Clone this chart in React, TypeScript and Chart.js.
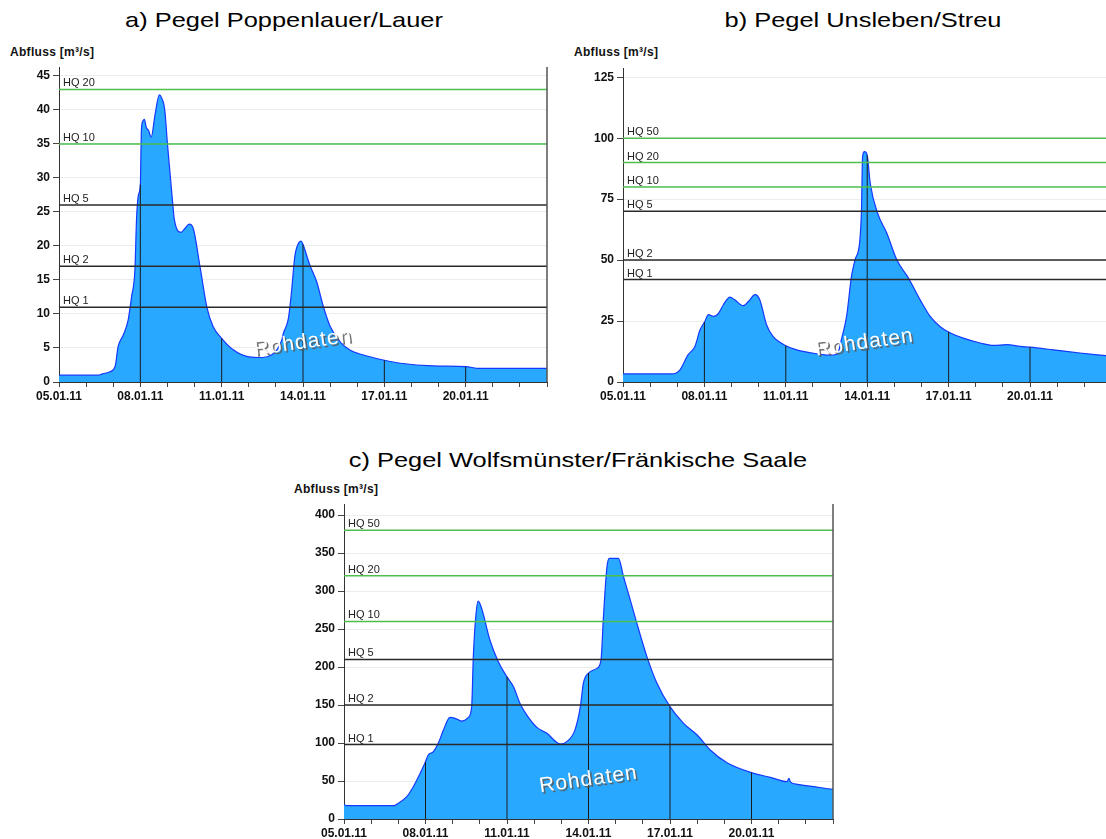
import React, { useEffect, useRef } from 'react';
import { Chart, registerables } from 'chart.js';

Chart.register(...registerables);

const FONT = '"Liberation Sans", Arial, Helvetica, sans-serif';

// shared x-axis tick labels (days after 05.01.11)
const tickDays = [0, 3, 6, 9, 12, 15];
const tickLabels = ['05.01.11', '08.01.11', '11.01.11', '14.01.11', '17.01.11', '20.01.11'];
const dropDays = [3, 6, 9, 12, 15];

// a) Pegel Poppenlauer/Lauer
const daysA = [0, 1.45, 1.6, 1.88, 2.07, 2.18, 2.37, 2.55, 2.68, 2.8, 2.86, 2.93, 3.0, 3.04, 3.1, 3.15, 3.22, 3.3, 3.4, 3.55, 3.7, 3.78, 3.9, 4.0, 4.2, 4.25, 4.5, 4.65, 4.8, 4.95, 5.2, 5.46, 5.68, 6.0, 6.4, 7.0, 7.5, 7.85, 8.05, 8.22, 8.28, 8.46, 8.57, 8.7, 8.85, 8.93, 9.0, 9.25, 9.5, 9.75, 10.0, 10.37, 10.73, 11.2, 12.0, 12.6, 13.8, 15.0, 15.5, 18.0];
const flowA = [1.0, 1.0, 1.2, 1.5, 2.3, 5.2, 6.9, 9.1, 12.6, 16.5, 23.9, 27.5, 29, 37, 38.4, 38.6, 37.4, 37.0, 36.0, 39.5, 42.2, 41.8, 40, 35, 26, 24, 22, 22.6, 23.2, 22.6, 17, 10.9, 8.2, 6.4, 4.8, 3.7, 3.6, 4.0, 4.8, 6.2, 7.2, 9.3, 13, 18.5, 20.5, 20.7, 20.2, 17.2, 14.8, 11.1, 8.2, 5.9, 4.7, 4.0, 3.2, 2.76, 2.36, 2.26, 2.0, 2.0];
const hqNamesA = ['HQ 20', 'HQ 10', 'HQ 5', 'HQ 2', 'HQ 1'];
const hqValuesA = [43, 35, 26, 17, 11];

// b) Pegel Unsleben/Streu
const daysB = [0, 1.8, 2.1, 2.4, 2.65, 2.84, 3.0, 3.15, 3.33, 3.5, 3.7, 3.94, 4.12, 4.43, 4.62, 4.87, 5.04, 5.29, 5.53, 6.0, 6.4, 7.13, 7.6, 7.9, 8.05, 8.24, 8.42, 8.55, 8.73, 8.79, 8.83, 8.9, 9.0, 9.11, 9.38, 9.72, 10.09, 10.52, 10.95, 11.32, 11.68, 12.0, 12.54, 13.16, 13.65, 14.15, 14.64, 15.0, 15.86, 16.84, 17.8];
const flowB = [3.3, 3.3, 5, 11.2, 14.6, 21.4, 24.5, 27.6, 26.9, 27.9, 31.7, 34.8, 33.7, 31.3, 33, 35.8, 33.7, 23.5, 18.7, 14.9, 13.2, 11.6, 11.0, 11.5, 17.5, 26.9, 43.3, 50, 58.3, 71, 92.5, 94.5, 93, 81.6, 69.3, 61.1, 50.1, 42.6, 33.7, 26.9, 22.8, 20.5, 18, 16, 15, 15.3, 14.6, 14.3, 13.2, 11.9, 10.8];
const hqNamesB = ['HQ 50', 'HQ 20', 'HQ 10', 'HQ 5', 'HQ 2', 'HQ 1'];
const hqValuesB = [100, 90, 80, 70, 50, 42];

// c) Pegel Wolfsmünster/Fränkische Saale
const daysC = [0, 0.08, 1.85, 1.94, 2.31, 2.55, 2.8, 3.0, 3.1, 3.29, 3.47, 3.66, 3.9, 4.09, 4.33, 4.58, 4.7, 4.76, 4.86, 4.94, 5.02, 5.12, 5.37, 5.68, 6.0, 6.24, 6.48, 6.73, 7.1, 7.47, 7.96, 8.2, 8.5, 8.7, 8.81, 9.0, 9.31, 9.46, 9.55, 9.68, 9.77, 10.1, 10.29, 10.54, 10.78, 11.15, 11.52, 12.0, 12.5, 13.0, 13.48, 14.1, 15.0, 15.7, 16.3, 16.38, 16.43, 16.7, 18.0];
const flowC = [19.3, 17.5, 17.5, 19.3, 29.4, 42.5, 60, 75.4, 84.2, 88.6, 99.6, 117, 133.8, 132.5, 128.9, 133.8, 147.8, 213.6, 270, 286.8, 282, 270.6, 235.5, 207, 187, 174, 152, 136.8, 120.6, 112.7, 98.7, 101.8, 117, 147.8, 178.5, 192, 198.2, 209, 266, 332, 343, 343, 318.8, 288, 257.5, 213.6, 178.5, 147.8, 125.9, 110.5, 90.8, 74, 61, 54.8, 49.1, 53.5, 48.8, 45.6, 39];
const hqNamesC = ['HQ 50', 'HQ 20', 'HQ 10', 'HQ 5', 'HQ 2', 'HQ 1'];
const hqValuesC = [380, 320, 260, 210, 150, 98];

const GREEN = '#4cbf4c';
const DARK = '#2a2a2a';
const hqColor = (name: string) => (['HQ 10', 'HQ 20', 'HQ 50'].includes(name) ? GREEN : DARK);

function interp(days: number[], vals: number[], d: number) {
  for (let i = 0; i < days.length - 1; i++) {
    if (d >= days[i] && d <= days[i + 1]) {
      const t = (d - days[i]) / (days[i + 1] - days[i] || 1);
      return vals[i] + t * (vals[i + 1] - vals[i]);
    }
  }
  return vals[vals.length - 1];
}

type Spec = {
  left: number; top: number; width: number; height: number;
  padTop: number; padRight: number; xAxisH: number;
  xMax: number; yMax: number; yStep: number;
  days: number[]; flow: number[]; hqNames: string[]; hqValues: number[];
  rightBorder: boolean;
};

function HydroChart({ spec }: { spec: Spec }) {
  const ref = useRef<HTMLCanvasElement>(null);
  useEffect(() => {
    const s = spec;
    const flowData = s.days.map((d, i) => ({ x: d, y: s.flow[i] }));
    const datasets: any[] = [
      {
        data: flowData,
        borderColor: '#1538ff',
        borderWidth: 1.2,
        backgroundColor: '#29a8ff',
        fill: 'origin',
        pointRadius: 0,
        cubicInterpolationMode: 'monotone',
        order: 5,
      },
    ];
    s.hqNames.forEach((n, i) => {
      datasets.push({
        data: [{ x: 0, y: s.hqValues[i] }, { x: s.xMax, y: s.hqValues[i] }],
        borderColor: hqColor(n),
        borderWidth: 1.5,
        fill: false,
        pointRadius: 0,
        order: 1,
      });
    });
    dropDays.forEach((d) => {
      datasets.push({
        data: [{ x: d, y: 0 }, { x: d, y: interp(s.days, s.flow, d) }],
        borderColor: '#1a1a1a',
        borderWidth: 1,
        fill: false,
        pointRadius: 0,
        order: 2,
      });
    });

    const overlay = {
      id: 'overlay',
      afterDatasetsDraw(chart: any) {
        const { ctx, chartArea, scales } = chart;
        const y = scales.y;
        ctx.save();
        ctx.font = `11px ${FONT}`;
        ctx.fillStyle = '#222';
        ctx.textAlign = 'left';
        ctx.textBaseline = 'alphabetic';
        s.hqNames.forEach((n, i) => {
          ctx.fillText(n, chartArea.left + 4, y.getPixelForValue(s.hqValues[i]) - 3);
        });
        // watermark
        const cx = chartArea.left + 0.5 * (chartArea.right - chartArea.left);
        const cy = chartArea.top + 0.875 * (chartArea.bottom - chartArea.top);
        ctx.translate(cx, cy);
        ctx.rotate((-8 * Math.PI) / 180);
        ctx.font = `21px ${FONT}`;
        try { (ctx as any).letterSpacing = '1px'; } catch (e) {}
        ctx.textAlign = 'center';
        ctx.textBaseline = 'middle';
        ctx.fillStyle = 'rgba(90,90,90,0.85)';
        ctx.fillText('Rohdaten', 1.5, 2);
        ctx.fillStyle = '#ffffff';
        ctx.fillText('Rohdaten', 0, 0);
        ctx.restore();
        if (s.rightBorder) {
          ctx.save();
          ctx.strokeStyle = '#555';
          ctx.lineWidth = 1.5;
          ctx.beginPath();
          ctx.moveTo(chartArea.right, chartArea.top);
          ctx.lineTo(chartArea.right, chartArea.bottom);
          ctx.stroke();
          ctx.restore();
        }
      },
    };

    const chart = new Chart(ref.current as HTMLCanvasElement, {
      type: 'line',
      data: { datasets },
      plugins: [overlay],
      options: {
        animation: false,
        responsive: false,
        maintainAspectRatio: false,
        layout: { padding: { top: s.padTop, right: s.padRight, left: 0, bottom: 0 } },
        plugins: { legend: { display: false }, tooltip: { enabled: false }, title: { display: false } },
        scales: {
          x: {
            type: 'linear',
            min: 0,
            max: s.xMax,
            afterFit: (sc: any) => { sc.height = s.xAxisH; },
            grid: { drawOnChartArea: false, tickLength: 5, tickColor: '#444' },
            border: { color: '#333', width: 1 },
            ticks: {
              stepSize: 1,
              autoSkip: false,
              maxRotation: 0,
              includeBounds: false,
              padding: 2,
              color: '#111',
              font: { family: FONT, size: 12, weight: 'bold' },
              callback: (v: any) => {
                const idx = tickDays.indexOf(Number(v));
                return idx >= 0 ? tickLabels[idx] : '';
              },
            },
          },
          y: {
            type: 'linear',
            min: 0,
            max: s.yMax,
            afterFit: (sc: any) => { sc.width = 59; },
            grid: { color: '#ececec', tickLength: 6, tickColor: '#444' },
            border: { color: '#333', width: 1 },
            ticks: {
              stepSize: s.yStep,
              includeBounds: false,
              padding: 3,
              color: '#111',
              font: { family: FONT, size: 12, weight: 'bold' },
            },
          },
        },
      } as any,
    });
    return () => chart.destroy();
  }, [spec]);
  return (
    <canvas
      ref={ref}
      width={spec.width}
      height={spec.height}
      style={{ position: 'absolute', left: spec.left, top: spec.top, width: spec.width, height: spec.height, display: 'block' }}
    />
  );
}

const specA: Spec = {
  left: 0, top: 40, width: 560, height: 370, padTop: 27, padRight: 13, xAxisH: 28,
  xMax: 18, yMax: 46.3, yStep: 5, days: daysA, flow: flowA, hqNames: hqNamesA, hqValues: hqValuesA, rightBorder: true,
};
const specB: Spec = {
  left: 564, top: 40, width: 542, height: 370, padTop: 28, padRight: 0, xAxisH: 28,
  xMax: 17.8, yMax: 128.8, yStep: 25, days: daysB, flow: flowB, hqNames: hqNamesB, hqValues: hqValuesB, rightBorder: false,
};
const specC: Spec = {
  left: 285, top: 480, width: 560, height: 359, padTop: 24, padRight: 12, xAxisH: 20,
  xMax: 18, yMax: 414.5, yStep: 50, days: daysC, flow: flowC, hqNames: hqNamesC, hqValues: hqValuesC, rightBorder: true,
};

const titleStyle: React.CSSProperties = {
  position: 'absolute', fontFamily: FONT, fontSize: 21, lineHeight: '24px', color: '#000', textAlign: 'center',
  whiteSpace: 'nowrap', transform: 'scaleX(1.21)', transformOrigin: 'center',
};
const unitStyle: React.CSSProperties = {
  position: 'absolute', fontFamily: FONT, fontSize: 12, fontWeight: 'bold', lineHeight: '13px', color: '#111',
  whiteSpace: 'nowrap', letterSpacing: '0.3px',
};

export default function App() {
  return (
    <div style={{ position: 'absolute', left: 0, top: 0, width: 1106, height: 839, overflow: 'hidden', background: '#fff' }}>
      <div style={{ ...titleStyle, left: 0, width: 568, top: 8 }}>a) Pegel Poppenlauer/Lauer</div>
      <div style={{ ...titleStyle, left: 620, width: 486, top: 8 }}>b) Pegel Unsleben/Streu</div>
      <div style={{ ...titleStyle, left: 278, width: 600, top: 448 }}>c) Pegel Wolfsmünster/Fränkische Saale</div>
      <div style={{ ...unitStyle, left: 10, top: 46 }}>Abfluss [m³/s]</div>
      <div style={{ ...unitStyle, left: 574, top: 46 }}>Abfluss [m³/s]</div>
      <div style={{ ...unitStyle, left: 294, top: 483 }}>Abfluss [m³/s]</div>
      <HydroChart spec={specA} />
      <HydroChart spec={specB} />
      <HydroChart spec={specC} />
    </div>
  );
}
